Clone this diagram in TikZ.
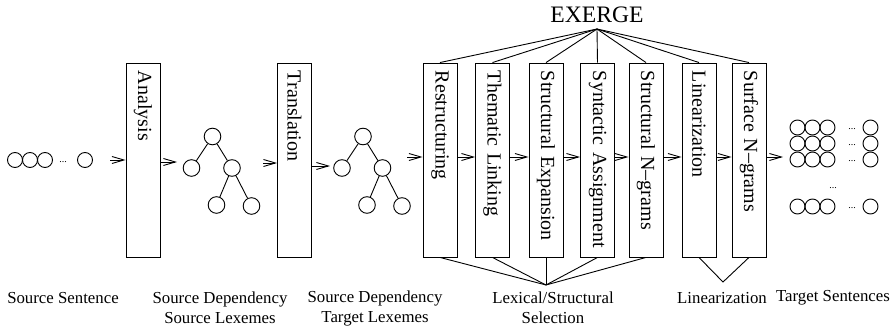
\documentclass[tikz,border=0pt]{standalone}
\usepackage{fontspec}
\setmainfont{Liberation Serif}
\usetikzlibrary{positioning,calc,arrows.meta}

\tikzset{
    stage/.style={draw, rotate=-90, minimum width=97pt, minimum height=17pt,
        text width=89pt, inner xsep=4pt, align=left, font=\fontsize{10}{12}\selectfont},
    word/.style={draw, circle, minimum size=7.5pt, inner sep=0pt},
    leaf/.style={draw, circle, minimum size=8.3pt, inner sep=0pt},
    flow/.style={-{Straight Barb[length=6pt,width=3.5pt]}},
    caption/.style={align=center, font=\fontsize{8.4}{10}\selectfont},
    dots/.style={inner sep=0pt, font=\fontsize{5}{6}\selectfont}
}

\begin{document}
\begin{tikzpicture}[x=0.5pt, y=-0.5pt, line width=0.45pt]
    \useasboundingbox (0,0) rectangle (896,331);

    % Processing stages
    \foreach \name/\x/\txt in {ana/143/Analysis, trans/294.5/Translation,
        restr/440/Restructuring, theme/492.5/Thematic Linking,
        expand/546/Structural Expansion, synt/597.5/Syntactic Assignment,
        ngram/646/Structural N--grams, lin/699/Linearization, surf/749/Surface N--grams}
        \node[stage] (\name) at (\x,160) {\hyphenpenalty=10000 \txt};

    \foreach \a/\b in {restr/theme, theme/expand, expand/synt, synt/ngram, ngram/lin, lin/surf}
        \draw[flow] ([yshift=1.5pt]\a.north) -- ([yshift=1.5pt]\b.south);

    % EXERGE on top
    \node[font=\fontsize{11.8}{14}\selectfont] (exerge) at (597,15) {EXERGE};
    \coordinate (apex) at (597,29);
    \foreach \n in {restr, theme, expand, synt, ngram, lin, surf}
        \draw (apex) -- (\n.west);

    % Groupings below
    \coordinate (selapex) at (546,285);
    \foreach \n in {restr, theme, expand, synt, ngram}
        \draw (\n.east) -- (selapex);
    \coordinate (linapex) at (723,282);
    \draw (lin.east) -- (linapex) -- (surf.east);

    % Source sentence
    \foreach \x [count=\i] in {15,30,45}
        \node[word] (s\i) at (\x,160) {};
    \node[dots] (sdots) at (63,162) {...};
    \node[word] (slast) at (85,160) {};

    % Dependency trees
    \foreach \dx/\t in {0/1, 150.5/2} {
        \node[leaf] (root\t) at ({212.5+\dx},136.5) {};
        \node[leaf] (left\t) at ({191.5+\dx},168) {};
        \node[leaf] (right\t) at ({232+\dx},168) {};
        \node[leaf] (rl\t) at ({216.5+\dx},205) {};
        \node[leaf] (rr\t) at ({251.5+\dx},206) {};
        \draw (root\t) -- (left\t);
        \draw (root\t) -- (right\t);
        \draw (right\t) -- (rl\t);
        \draw (right\t) -- (rr\t);
    }

    % Target sentences
    \foreach \y [count=\r] in {127.5,143.5,159.5,206.5} {
        \foreach \x [count=\c] in {797.5,812.5,827.5}
            \node[word] (t\r\c) at (\x,\y) {};
        \node[dots] (tdots\r) at (852,{\y+1.5}) {...};
        \node[word] (tlast\r) at (870.5,\y) {};
    }
    \node[dots] (vdots) at (833,188) {...};

    % Flow arrows
    \coordinate (sout) at (110,160);
    \draw[flow] (sout) -- (sout -| ana.south);
    \coordinate (t1in) at (177,162);
    \draw[flow] (ana.north |- t1in) -- (t1in);
    \coordinate (t1out) at (263,163);
    \draw[flow] (t1out) -- (t1out -| trans.south);
    \coordinate (t2in) at (330,166);
    \draw[flow] (trans.north |- t2in) -- (t2in);
    \coordinate (t2out) at (407,157);
    \draw[flow] (t2out) -- (t2out -| restr.south);
    \coordinate (tin) at (783,157);
    \draw[flow] ([yshift=1.5pt]surf.north) -- (tin);

    % Captions
    \node[caption] (srcsent) at (63,298) {Source Sentence};
    \node[caption] (srcdep) at (220,308) {Source Dependency\\Source Lexemes};
    \node[caption] (tgtdep) at (375,308) {Source Dependency\\Target Lexemes};
    \node[caption] (lexsel) at (553,308) {Lexical/Structural\\Selection};
    \node[caption] (linlab) at (722,298) {Linearization};
    \node[caption] (tgtsent) at (833,298) {Target Sentences};
\end{tikzpicture}
\end{document}
